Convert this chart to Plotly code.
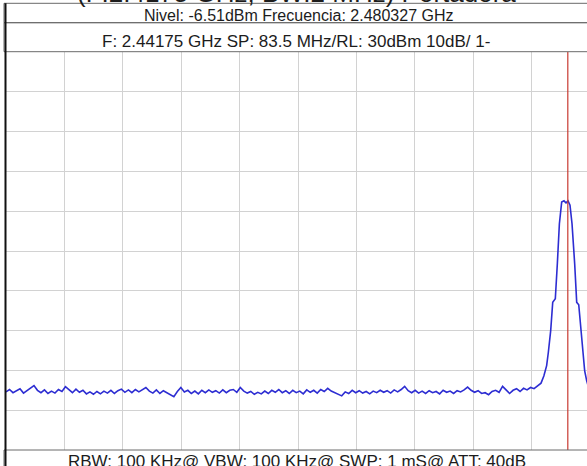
import plotly.graph_objects as go

# sweep: 2400 MHz start, 0.5 MHz per noise point (offsets in MHz)
noise_offsets = [i * 0.5 for i in range(154)]
noise_dbm = [
    -55.4, -54.8, -55.6, -55.0, -54.6, -55.7, -55.1, -54.5, -53.8, -55.0,
    -55.6, -54.9, -55.8, -55.2, -55.7, -54.8, -55.3, -54.1, -54.9, -55.6,
    -54.7, -55.5, -55.0, -55.9, -55.4, -56.0, -55.3, -55.9, -55.2, -55.7,
    -55.0, -55.8, -55.1, -54.7, -55.5, -54.9, -55.6, -54.8, -55.4, -54.9,
    -54.3, -55.2, -55.7, -54.9, -55.8, -55.1, -55.6, -55.9, -56.6, -55.3,
    -54.3, -55.4, -55.0, -55.8, -55.2, -55.9, -55.0, -55.6, -54.9, -55.5,
    -55.1, -55.7, -54.9, -55.6, -55.0, -54.8, -55.5, -54.3, -55.2, -55.7,
    -55.3, -56.0, -55.5, -55.9, -55.2, -55.8, -55.0, -55.5, -54.8, -55.6,
    -55.1, -55.8, -55.0, -55.6, -55.2, -55.9, -54.9, -55.5, -55.0, -55.7,
    -54.8, -55.3, -54.5, -55.2, -55.6, -56.1, -56.4, -55.4, -55.8, -55.0,
    -55.6, -55.1, -55.7, -55.3, -55.9, -55.2, -55.6, -55.0, -55.5, -55.1,
    -55.7, -54.9, -55.4, -54.8, -54.0, -55.1, -55.6, -55.0, -55.7, -55.2,
    -55.8, -55.1, -55.6, -55.3, -55.9, -55.0, -55.5, -55.2, -55.8, -55.1,
    -55.4, -54.9, -54.2, -55.0, -55.5, -55.1, -55.8, -55.6, -56.1, -55.3,
    -55.0, -55.5, -54.0, -54.9, -55.8, -55.0, -54.6, -55.3, -54.5, -54.9,
    -54.3, -54.6, -53.9, -53.2,
]

# the carrier, offsets in MHz from 2400
peak_offsets = [76.9, 77.3, 77.54, 77.88, 78.17, 78.54, 78.83, 79.12, 79.45,
                79.78, 80.07, 80.36, 80.64, 80.93, 81.31, 81.6, 81.89, 82.31,
                82.74, 83.03, 83.5]
peak_dbm = [-51.4, -48.8, -45.5, -40.0, -32.9, -32.0, -23.2, -13.2, -7.7,
            -7.4, -7.9, -7.4, -8.5, -13.2, -23.2, -32.9, -33.5, -41.7,
            -50.1, -52.6, -55.5]

start_mhz = 2400.0
span_mhz = 83.5
marker_mhz = 2480.327

title_text = "(F:2.4175 GHz, BW:2 MHz) Portadora"
line1_text = "Nivel: -6.51dBm Frecuencia: 2.480327 GHz"
line2_text = "F: 2.44175 GHz SP: 83.5 MHz/RL: 30dBm 10dB/ 1-"
footer_text = "RBW: 100 KHz@ VBW: 100 KHz@ SWP: 1 mS@ ATT: 40dB"

freq = [start_mhz + f for f in noise_offsets + peak_offsets]
level = noise_dbm + peak_dbm

W, H = 587, 466
L, T, B = 6, 52, 16
FULL_W = 584  # analyzer grid is wider than the picture


def px(x):
    return (x - L) / (W - L)


def py(y):
    return (H - B - y) / (H - T - B)


font = "Arial, Liberation Sans, sans-serif"

fig = go.Figure()
fig.add_trace(go.Scatter(x=freq, y=level, mode="lines",
                         line=dict(color="#2d2dd2", width=1.6),
                         showlegend=False, hoverinfo="skip"))

x_end = start_mhz + span_mhz * (W - L) / FULL_W
fig.update_xaxes(range=[start_mhz, x_end], tick0=start_mhz, dtick=span_mhz / 10,
                 showgrid=True, gridcolor="#d2d2d2", gridwidth=1.2,
                 showticklabels=False, zeroline=False, ticks="")
fig.update_yaxes(range=[-70, 30], tick0=-70, dtick=10,
                 showgrid=True, gridcolor="#d2d2d2", gridwidth=1.2,
                 showticklabels=False, zeroline=False, ticks="")

shapes = [
    dict(type="line", xref="x", yref="paper", x0=marker_mhz, x1=marker_mhz,
         y0=0, y1=1, line=dict(color="#c83a30", width=1.2)),
    # header boxes
    dict(type="rect", xref="paper", yref="paper", x0=px(4), x1=px(620),
         y0=py(22.7), y1=py(3.3), line=dict(color="#6a6a6a", width=1)),
    dict(type="rect", xref="paper", yref="paper", x0=px(4), x1=px(620),
         y0=py(51.7), y1=py(22.7), line=dict(color="#6a6a6a", width=1)),
    # footer box
    dict(type="rect", xref="paper", yref="paper", x0=px(4), x1=px(620),
         y0=py(480), y1=py(450), line=dict(color="#6a6a6a", width=1)),
    # plot frame
    dict(type="line", xref="paper", yref="paper", x0=px(5.5), x1=px(5.5),
         y0=py(470), y1=py(3.3), line=dict(color="#111111", width=2)),
]

annotations = [
    dict(text=title_text, x=px(296), y=py(-7), font=dict(size=26)),
    dict(text=line1_text, x=px(298), y=py(15.5), font=dict(size=16)),
    dict(text=line2_text, x=px(296), y=py(41), font=dict(size=17)),
    dict(text=footer_text, x=px(297), y=py(461.5), font=dict(size=17)),
]
for a in annotations:
    a.update(xref="paper", yref="paper", showarrow=False,
             xanchor="center", yanchor="middle")
    a["font"].update(family=font, color="#1c1c1c")

fig.update_layout(
    width=W, height=H,
    margin=dict(l=L, r=0, t=T, b=B, pad=0),
    paper_bgcolor="white", plot_bgcolor="white",
    shapes=shapes, annotations=annotations,
    font=dict(family=font),
)

# drop the default body margin so the figure sits at the page corner
fig.write_html("out.html", config={"displayModeBar": False},
               post_script="document.body.style.margin='0';document.body.style.overflow='hidden';")
